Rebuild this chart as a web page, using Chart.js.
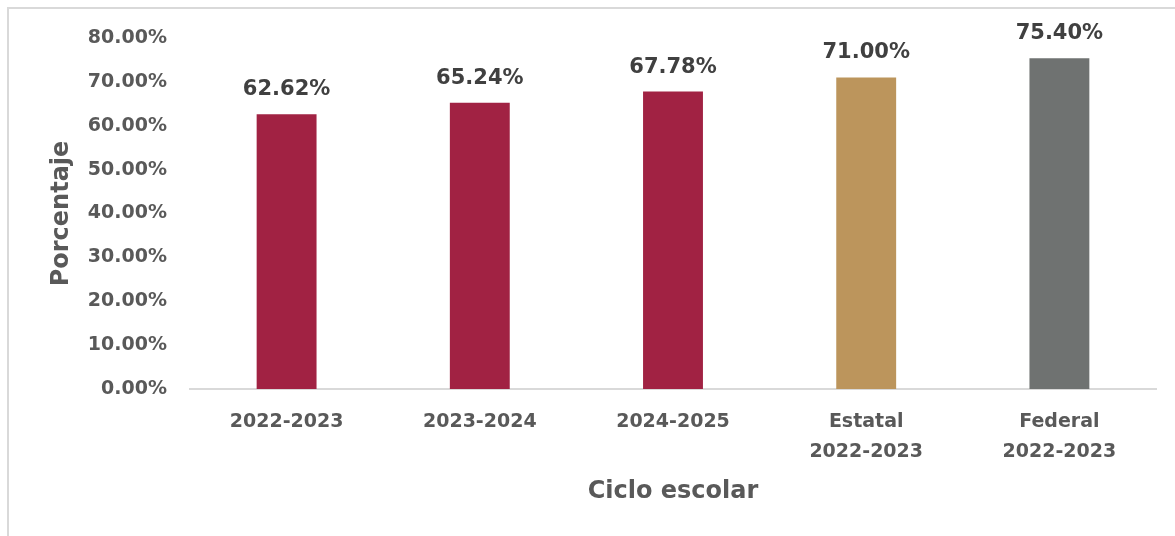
<!DOCTYPE html>
<html><head><meta charset="utf-8">
<script src="https://cdn.jsdelivr.net/npm/chart.js@4"></script>
<style>
html,body{margin:0;padding:0;background:#fff;overflow:hidden}
#frame{position:absolute;left:7px;top:7px;width:1180px;height:540px;border:2px solid #d9d9d9;box-sizing:border-box}
#wrap{position:absolute;left:0;top:0;width:1175px;height:536px}
</style></head><body>
<div id="frame"></div>
<div id="wrap"><canvas id="c" width="1175" height="536"></canvas></div>
<script>
const categories = [["2022-2023"],["2023-2024"],["2024-2025"],["Estatal","2022-2023"],["Federal","2022-2023"]];
const values = [62.62, 65.24, 67.78, 71.00, 75.40];
const barColors = ["#A12243","#A12243","#A12243","#BC955C","#6F7271"];
const yTicks = [0,10,20,30,40,50,60,70,80];
const yTitle = "Porcentaje";
const xTitle = "Ciclo escolar";
const FONT = "'DejaVu Sans', sans-serif";

const labelPlugin = {
  id:'labels',
  afterDatasetsDraw(chart){
    const ctx = chart.ctx;
    const meta = chart.getDatasetMeta(0);
    ctx.save();
    ctx.font = "bold 21px " + FONT;
    ctx.fillStyle = "#404040";
    ctx.textAlign = "center";
    ctx.textBaseline = "bottom";
    meta.data.forEach((bar,i)=>{
      ctx.fillText(values[i].toFixed(2)+"%", bar.x, bar.y - 14);
    });
    const ca = chart.chartArea;
    ctx.fillStyle = "#595959";
    ctx.font = "bold 24px " + FONT;
    ctx.textBaseline = "middle";
    ctx.fillText(xTitle, (ca.left+ca.right)/2, 492);
    ctx.translate(62, (ca.top+ca.bottom)/2);
    ctx.rotate(-Math.PI/2);
    ctx.fillText(yTitle, 0, 0);
    ctx.restore();
  }
};

new Chart(document.getElementById('c'), {
  type:'bar',
  data:{labels:categories, datasets:[{data:values, backgroundColor:barColors, categoryPercentage:1, barPercentage:0.31}]},
  options:{
    responsive:false, animation:false,
    layout:{padding:{top:38,right:19,left:0,bottom:0}},
    plugins:{legend:{display:false}, tooltip:{enabled:false}},
    scales:{
      y:{min:0,max:80,
        afterBuildTicks(s){ s.ticks = yTicks.map(v=>({value:v})); },
        afterFit(s){ s.width = 190; },
        border:{display:false},
        grid:{display:false, drawTicks:false},
        ticks:{padding:23, color:"#595959", font:{family:FONT, weight:'bold', size:19},
          callback:v=>v.toFixed(2)+"%"}
      },
      x:{
        afterFit(s){ s.height = 147; },
        border:{display:true, color:"#d9d9d9", width:2},
        grid:{display:false, drawTicks:false},
        ticks:{padding:18, color:"#595959", maxRotation:0, font:{family:FONT, weight:'bold', size:19, lineHeight:1.58}}
      }
    }
  },
  plugins:[labelPlugin]
});
</script>
</body></html>
